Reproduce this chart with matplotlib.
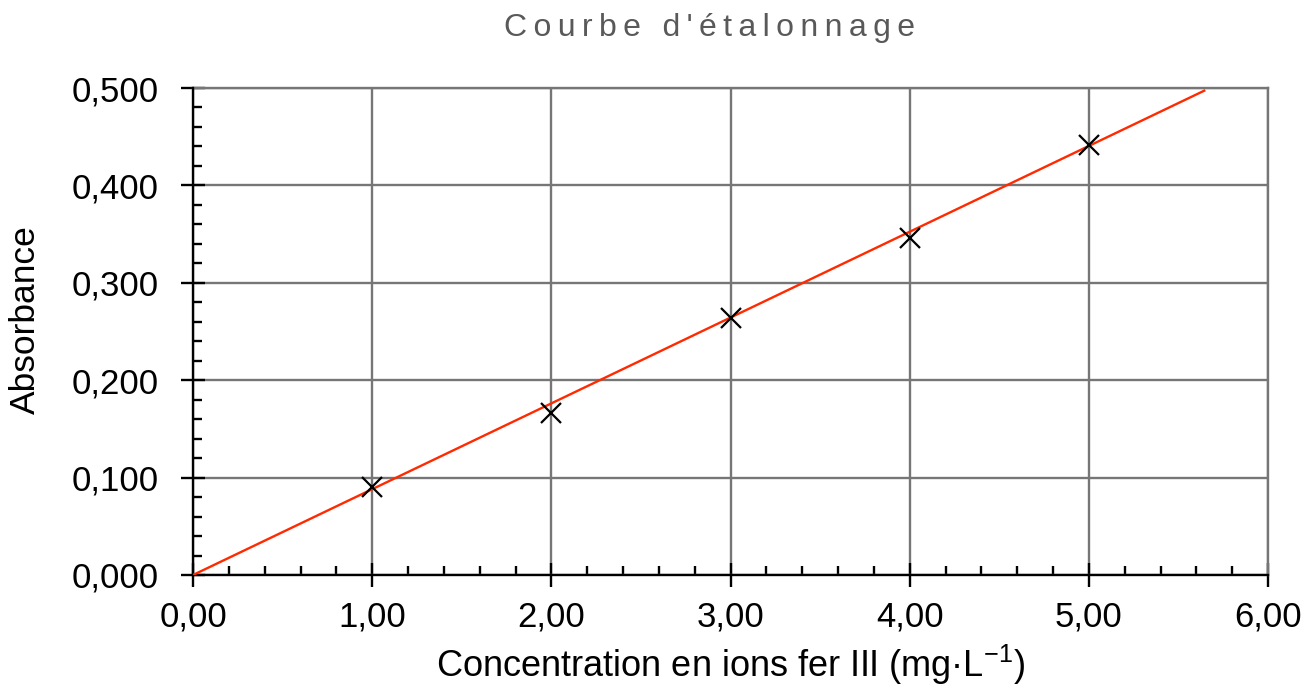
import numpy as np
import matplotlib
matplotlib.use("Agg")
import matplotlib.pyplot as plt
from matplotlib.ticker import MultipleLocator, FixedLocator

plt.rcParams['font.family'] = ['Liberation Sans', 'DejaVu Sans']
plt.rcParams['mathtext.fontset'] = 'custom'
plt.rcParams['mathtext.rm'] = 'Liberation Sans'
plt.rcParams['mathtext.it'] = 'Liberation Sans'

# Data
concentration = [1.0, 2.0, 3.0, 4.0, 5.0]
absorbance = [0.090, 0.166, 0.264, 0.346, 0.441]
trend_slope = 0.0881
trend_x_end = 5.65

x_ticks = [0, 1, 2, 3, 4, 5, 6]
x_tick_labels = ["0,00", "1,00", "2,00", "3,00", "4,00", "5,00", "6,00"]
y_ticks = [0.0, 0.1, 0.2, 0.3, 0.4, 0.5]
y_tick_labels = ["0,000", "0,100", "0,200", "0,300", "0,400", "0,500"]

title = "Courbe d'étalonnage"
xlabel = "Concentration en ions fer III (mg·L$^{-1}$)"
ylabel = "Absorbance"

fig = plt.figure(figsize=(13.16, 6.89), dpi=100)
ax = fig.add_axes([193/1316, 1-575/689, (1268-193)/1316, (575-88)/689])

grid_color = '#767676'
ax.set_xlim(0, 6)
ax.set_ylim(0, 0.5)
ax.xaxis.set_major_locator(FixedLocator(x_ticks))
ax.set_xticklabels(x_tick_labels)
ax.yaxis.set_major_locator(FixedLocator(y_ticks))
ax.set_yticklabels(y_tick_labels)
ax.xaxis.set_minor_locator(MultipleLocator(0.2))
ax.yaxis.set_minor_locator(MultipleLocator(0.02))

ax.grid(True, which='major', color=grid_color, linewidth=1.7, zorder=0)
ax.set_axisbelow(True)

for s in ['top', 'right']:
    ax.spines[s].set_color(grid_color)
    ax.spines[s].set_linewidth(1.7)
for s in ['bottom', 'left']:
    ax.spines[s].set_color('black')
    ax.spines[s].set_linewidth(1.7)
    ax.spines[s].set_zorder(3)

ax.tick_params(which='major', direction='inout', length=17, width=1.7,
               color='black', labelsize=25)
ax.tick_params(which='minor', direction='in', length=6.5, width=1.7, color='black')
ax.tick_params(axis='x', which='major', pad=10)
ax.tick_params(axis='y', which='major', pad=16)

# Trend line through origin
tx = np.array([0.0, trend_x_end])
ax.plot(tx, trend_slope * tx, color='#ff2a00', linewidth=1.7, zorder=4,
        solid_capstyle='butt')

# Data points
ax.plot(concentration, absorbance, linestyle='none', marker='x', color='black',
        markersize=14, markeredgewidth=1.6, zorder=5)

fig.text(730/1316, 1-677/689, xlabel, ha='center', va='baseline', fontsize=26)
fig.text(25/1316, 1-320/689, ylabel, ha='center', va='center', rotation=90,
         fontsize=25.5)

spaced_title = "\u2009".join(title)
fig.text(709/1316, 1-28/689, spaced_title, ha='center', va='center',
         fontsize=23, color='#595959')

fig.savefig("out.png", dpi=100)
